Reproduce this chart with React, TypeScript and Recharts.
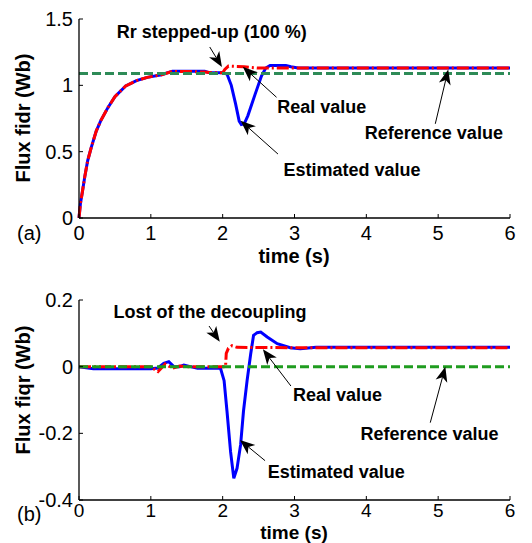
import React from "react";
import {
  LineChart,
  Line,
  XAxis,
  YAxis,
  ReferenceLine,
  ReferenceDot,
} from "recharts";

// ---- data ----
const xTicks = [0, 1, 2, 3, 4, 5, 6];
const yTicksA = [0, 0.5, 1, 1.5];
const yTicksB = [-0.4, -0.2, 0, 0.2];

// (a) flux fidr
const tRealA = [0, 0.02, 0.045, 0.08, 0.12, 0.17, 0.24, 0.3, 0.4, 0.5, 0.65, 0.8, 0.95, 1.15, 1.3, 1.5, 1.75, 1.85, 2.0, 2.03, 2.08, 2.3, 2.5, 3, 6];
const realA = [0, 0.11, 0.19, 0.31, 0.43, 0.53, 0.655, 0.73, 0.83, 0.915, 0.995, 1.035, 1.06, 1.08, 1.105, 1.105, 1.1, 1.095, 1.095, 1.12, 1.145, 1.14, 1.13, 1.13, 1.13];
const tEstA = [0, 0.02, 0.045, 0.08, 0.12, 0.17, 0.24, 0.3, 0.4, 0.5, 0.65, 0.8, 0.95, 1.15, 1.3, 1.75, 1.8, 2.0, 2.06, 2.12, 2.18, 2.23, 2.26, 2.3, 2.35, 2.45, 2.54, 2.6, 2.66, 2.88, 2.95, 3.05, 6];
const estA = [0, 0.11, 0.19, 0.31, 0.43, 0.53, 0.655, 0.73, 0.83, 0.915, 0.995, 1.035, 1.06, 1.08, 1.107, 1.107, 1.097, 1.095, 1.085, 1.0, 0.86, 0.73, 0.705, 0.71, 0.77, 0.93, 1.07, 1.13, 1.15, 1.15, 1.14, 1.13, 1.13];
const tRef = [0, 6];
const refA = [1.09, 1.09];

// (b) flux fiqr
const tRealB = [0, 1.0, 1.05, 1.1, 1.2, 1.3, 1.4, 1.5, 2.0, 2.04, 2.05, 2.08, 2.13, 2.2, 3, 6];
const realB = [0, 0, -0.008, -0.015, 0.008, -0.005, 0.002, 0, 0, 0, 0.04, 0.055, 0.063, 0.058, 0.057, 0.057];
const tEstB = [0, 0.2, 1.0, 1.1, 1.18, 1.25, 1.32, 1.4, 1.46, 1.55, 1.65, 1.97, 2.02, 2.06, 2.11, 2.155, 2.2, 2.25, 2.29, 2.34, 2.39, 2.43, 2.48, 2.53, 2.62, 2.76, 2.94, 3.08, 3.3, 6];
const estB = [0, -0.006, -0.006, -0.004, 0.01, 0.015, 0, 0, 0.005, 0, -0.005, -0.005, -0.042, -0.133, -0.255, -0.335, -0.305, -0.234, -0.133, -0.042, 0.038, 0.094, 0.102, 0.104, 0.089, 0.069, 0.057, 0.054, 0.058, 0.058];
const refB = [0, 0];

// annotations: [text, text x, text y, arrow tail x, tail y, head x, head y]
const notesA: [string, number, number, number, number, number, number][] = [
  ["Rr stepped-up (100 %)", 1.847, 1.402, 1.82, 1.289, 1.99, 1.138],
  ["Real value", 3.38, 0.842, 2.75, 0.91, 2.28, 1.14],
  ["Estimated value", 3.8, 0.362, 2.77, 0.482, 2.25, 0.733],
  ["Reference value", 4.94, 0.64, 4.96, 0.71, 5.14, 1.12],
];
const notesB: [string, number, number, number, number, number, number][] = [
  ["Lost of the decoupling", 1.824, 0.165, 1.81, 0.122, 1.96, 0.075],
  ["Real value", 3.6, -0.085, 2.95, -0.058, 2.56, 0.052],
  ["Estimated value", 3.58, -0.315, 2.59, -0.282, 2.24, -0.22],
  ["Reference value", 4.88, -0.2, 4.89, -0.168, 5.1, 0.0],
];

const toRows = (ts: number[], vs: number[]) => ts.map((t, i) => ({ t, v: vs[i] }));

const FONT = "'Liberation Sans', Arial, Helvetica, sans-serif";

// matlab-ish arrow: thin line with a notched filled head
const Arrow = (p: any) => {
  const { x1, y1, x2, y2 } = p;
  const dx = x2 - x1;
  const dy = y2 - y1;
  const len = Math.hypot(dx, dy) || 1;
  const ux = dx / len;
  const uy = dy / len;
  const L = 15;
  const W = 6;
  const N = 4;
  const bx = x2 - ux * L;
  const by = y2 - uy * L;
  const nx = x2 - ux * (L - N);
  const ny = y2 - uy * (L - N);
  const pts = [
    [x2, y2],
    [bx - uy * W, by + ux * W],
    [nx, ny],
    [bx + uy * W, by - ux * W],
  ]
    .map((q) => q.join(","))
    .join(" ");
  return (
    <g>
      <line x1={x1} y1={y1} x2={nx} y2={ny} stroke="#000" strokeWidth={1} />
      <polygon points={pts} fill="#000" />
    </g>
  );
};

const noTick = () => <g />;

interface PanelProps {
  height: number;
  top: number;
  bottom: number;
  domain: [number, number];
  yTicks: number[];
  xTickFont: number;
  xTickMargin: number;
  real: { t: number; v: number }[];
  est: { t: number; v: number }[];
  ref: { t: number; v: number }[];
  refColor: string;
  notes: [string, number, number, number, number, number, number][];
}

function Panel({ height, top, bottom, domain, yTicks, xTickFont, xTickMargin, real, est, ref, refColor, notes }: PanelProps) {
  const tickStyle = { fill: "#000", fontSize: 20, fontFamily: FONT };
  const axisLine = { stroke: "#000", strokeWidth: 1.3 };
  return (
    <LineChart width={532} height={height} margin={{ top, right: 22, left: 0, bottom: 0 }}>
      <XAxis
        type="number"
        dataKey="t"
        domain={[0, 6]}
        ticks={xTicks}
        height={bottom}
        tickSize={-4}
        tickMargin={xTickMargin}
        tick={{ ...tickStyle, fontSize: xTickFont }}
        tickLine={{ stroke: "#000" }}
        axisLine={axisLine}
      />
      <XAxis
        xAxisId="top"
        orientation="top"
        type="number"
        domain={[0, 6]}
        ticks={xTicks}
        height={0}
        tickSize={-4}
        tick={noTick}
        tickLine={{ stroke: "#000" }}
        axisLine={axisLine}
      />
      <YAxis
        type="number"
        domain={domain}
        ticks={yTicks}
        width={79}
        tickSize={-4}
        tickMargin={10}
        tick={tickStyle}
        tickLine={{ stroke: "#000" }}
        axisLine={axisLine}
      />
      <YAxis
        yAxisId="right"
        orientation="right"
        type="number"
        domain={domain}
        ticks={yTicks}
        width={0}
        tickSize={-4}
        tick={noTick}
        tickLine={{ stroke: "#000" }}
        axisLine={axisLine}
      />
      <Line data={est} dataKey="v" type="linear" stroke="#0000ff" strokeWidth={3} dot={false} activeDot={false} isAnimationActive={false} />
      <Line data={real} dataKey="v" type="linear" stroke="#ff0000" strokeWidth={3} strokeDasharray="12 3 2 3" dot={false} activeDot={false} isAnimationActive={false} />
      <Line data={ref} dataKey="v" type="linear" stroke={refColor} strokeWidth={3} strokeDasharray="9 4" dot={false} activeDot={false} isAnimationActive={false} />
      {notes.map((n, i) => (
        <ReferenceLine
          key={`a${i}`}
          segment={[
            { x: n[3], y: n[4] },
            { x: n[5], y: n[6] },
          ]}
          shape={Arrow}
        />
      ))}
      {notes.map((n, i) => (
        <ReferenceDot
          key={`t${i}`}
          x={n[1]}
          y={n[2]}
          r={0}
          fill="none"
          stroke="none"
          label={{ value: n[0], position: "center", fontSize: 18, fontWeight: "bold", fill: "#000", fontFamily: FONT }}
        />
      ))}
    </LineChart>
  );
}

export default function App() {
  const labelStyle: React.CSSProperties = { fontFamily: FONT };
  return (
    <div style={{ position: "absolute", left: 0, top: 0, width: 532, height: 543, background: "#fff" }}>
      <div style={{ position: "absolute", left: 0, top: 0 }}>
        <Panel
          height={270}
          top={19}
          bottom={52}
          domain={[0, 1.5]}
          yTicks={yTicksA}
          xTickFont={20}
          xTickMargin={12}
          real={toRows(tRealA, realA)}
          est={toRows(tEstA, estA)}
          ref={toRows(tRef, refA)}
          refColor="#2e8b57"
          notes={notesA}
        />
      </div>
      <div style={{ position: "absolute", left: 0, top: 270 }}>
        <Panel
          height={273}
          top={30}
          bottom={43}
          domain={[-0.4, 0.2]}
          yTicks={yTicksB}
          xTickFont={19}
          xTickMargin={8}
          real={toRows(tRealB, realB)}
          est={toRows(tEstB, estB)}
          ref={toRows(tRef, refB)}
          refColor="#1f9c1f"
          notes={notesB}
        />
      </div>
      <svg
        width={532}
        height={543}
        style={{ position: "absolute", left: 0, top: 0, pointerEvents: "none", ...labelStyle }}
      >
        <text x={294} y={263} textAnchor="middle" fontSize={20} fontWeight="bold">time (s)</text>
        <text x={294} y={539} textAnchor="middle" fontSize={19} fontWeight="bold">time (s)</text>
        <text transform="translate(30,118) rotate(-90)" textAnchor="middle" fontSize={20} fontWeight="bold">Flux fidr (Wb)</text>
        <text transform="translate(30,390) rotate(-90)" textAnchor="middle" fontSize={20} fontWeight="bold">Flux fiqr (Wb)</text>
        <text x={17} y={240} fontSize={20}>(a)</text>
        <text x={17} y={521} fontSize={20}>(b)</text>
      </svg>
    </div>
  );
}
